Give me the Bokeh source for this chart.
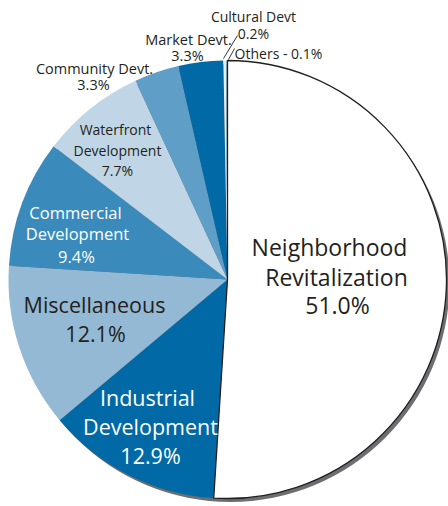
import numpy as np
from bokeh.plotting import figure
from bokeh.models import Range1d, ColumnDataSource
from bokeh.embed import file_html
from bokeh.resources import INLINE
from bokeh.core.properties import value

# ---- data ----
categories = ["Neighborhood Revitalization", "Industrial Development", "Miscellaneous",
              "Commercial Development", "Waterfront Development", "Community Devt.",
              "Market Devt.", "Cultural Devt", "Others"]
shares = [51.0, 12.9, 12.1, 9.4, 7.7, 3.3, 3.3, 0.2, 0.1]
colors = ["#ffffff", "#0069a6", "#93b9d4", "#3a8bbb", "#c0d6e6",
          "#5f9ec7", "#0069a6", "#e6eef6", "#8fb8d8"]

label_lines = [
    ["Neighborhood", "Revitalization", "51.0%"],
    ["Industrial", "Development", "12.9%"],
    ["Miscellaneous", "12.1%"],
    ["Commercial", "Development", "9.4%"],
    ["Waterfront", "Development", "7.7%"],
    ["Community Devt.", "3.3%"],
    ["Market Devt.", "3.3%"],
    ["Cultural Devt", "0.2%"],
    ["Others - 0.1%"],
]

# ---- layout (reference pixel space, y measured from top) ----
W, H = 448, 506
CX, CY, R = 227, 279, 219
label_pos = [
    [(329, 246), (336, 276), (337, 304)],
    [(147, 397), (150, 426), (150, 455)],
    [(94, 304), (95, 333)],
    [(75, 212), (77, 233), (76, 256)],
    [(115, 129), (117, 150), (117, 170)],
    [(94, 68), (93, 84)],
    [(188, 39), (187, 55)],
    [(253, 16), (253, 33)],
    [(278, 53)],
]
label_size = ["23px", "21.5px", "21.5px", "16.5px", "14px", "14.5px", "14.5px", "14px", "14px"]
label_color = ["#231f20", "#ffffff", "#231f20", "#ffffff", "#231f20",
               "#231f20", "#231f20", "#231f20", "#231f20"]

def Y(v):
    return H - v

p = figure(width=W, height=H, x_range=Range1d(0, W), y_range=Range1d(0, H),
           output_backend="svg", toolbar_location=None, min_border=0)
p.axis.visible = False
p.grid.visible = False
p.outline_line_color = None
p.background_fill_color = "white"

total = sum(shares)
cum = np.cumsum(shares)
start = np.pi / 2 - 2 * np.pi * cum / total
end = np.pi / 2 - 2 * np.pi * (cum - np.array(shares)) / total

src = ColumnDataSource(dict(cat=categories, share=shares, color=colors,
                            start=start, end=end))

# shadow
p.circle(x=CX + 3, y=Y(CY) - 3.5, radius=R, fill_color="#6d6e71", line_color=None)
p.wedge(x=CX, y=Y(CY), radius=R, start_angle="start", end_angle="end",
        direction="anticlock", fill_color="color", line_color=None, source=src)
# outline of the big slice
p.wedge(x=CX, y=Y(CY), radius=R, start_angle=start[0], end_angle=end[0],
        direction="anticlock", fill_color=None, line_color="#231f20", line_width=1.3)

# leader lines
p.segment(x0=[223, 228], y0=[Y(58), Y(59)], x1=[237, 234], y1=[Y(35), Y(48)],
          line_color="#231f20", line_width=0.9)

xs, ys, ts, sz, cl = [], [], [], [], []
for lines, pos, size, col in zip(label_lines, label_pos, label_size, label_color):
    for t, (x, y) in zip(lines, pos):
        xs.append(x); ys.append(Y(y)); ts.append(t); sz.append(size); cl.append(col)
tsrc = ColumnDataSource(dict(x=xs, y=ys, text=ts, size=sz, color=cl))
p.text(x="x", y="y", text="text", text_font_size="size", text_color="color",
       text_font=value("Open Sans"), text_align="center", text_baseline="middle",
       source=tsrc)

open("out.html", "w").write(file_html(p, INLINE))
